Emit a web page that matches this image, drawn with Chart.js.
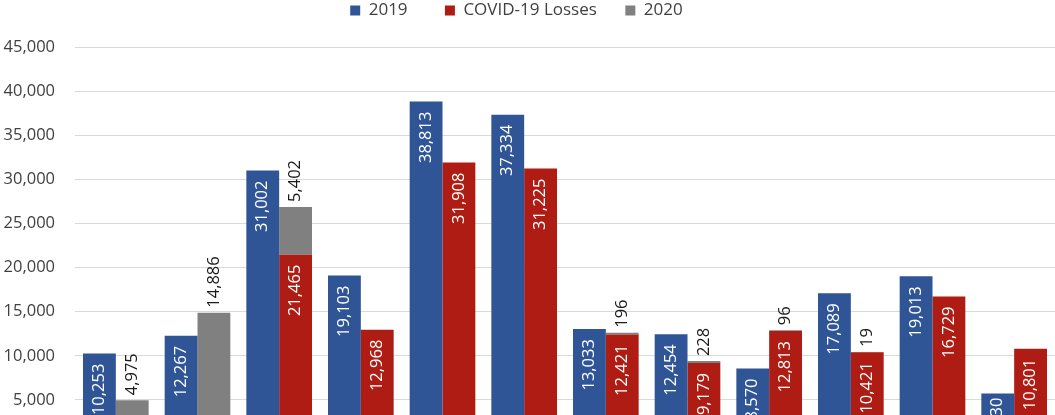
<!DOCTYPE html>
<html>
<head>
<meta charset="utf-8">
<script src="https://cdn.jsdelivr.net/npm/chart.js@4/dist/chart.umd.min.js"></script>
<style>
  html, body { margin: 0; padding: 0; background: #ffffff; overflow: hidden; }
  #wrap { position: relative; width: 1055px; height: 474px; }
</style>
</head>
<body>
<div id="wrap"><canvas id="chart"></canvas></div>
<script>
// Groups along the horizontal axis
const categories = ['1', '2', '3', '4', '5', '6', '7', '8', '9', '10', '11', '12'];

// Series values
const values2019 = [10253, 12267, 31002, 19103, 38813, 37334, 13033, 12454, 8570, 17089, 19013, 5730];
const covidLosses = [null, null, 21465, 12968, 31908, 31225, 12421, 9179, 12813, 10421, 16729, 10801];
const values2020 = [4975, 14886, 5402, null, null, null, 196, 228, 96, 19, null, null];

// Value axis
const yTicks = [5000, 10000, 15000, 20000, 25000, 30000, 35000, 40000, 45000];
const yMax = 45000;

const BLUE = '#2F5597';
const RED = '#AE1C13';
const GRAY = '#808080';
const FONT = "'Open Sans', 'Noto Sans', sans-serif";

// trailing spaces give each legend entry its column width
const legendTrail = [8, 6, 5];

const fmt = v => Number(v).toLocaleString('en-US');

// Legend block height above the plot
const legendBlock = {
  id: 'legendBlock',
  beforeInit(chart) {
    if (!chart.legend) return;
    const fit = chart.legend.fit;
    chart.legend.fit = function () {
      fit.call(this);
      this.height = 47;
    };
  }
};

// Rotated value labels: inside the top of blue/red bars, above the gray bars
const barLabels = {
  id: 'barLabels',
  afterDatasetsDraw(chart) {
    const ctx = chart.ctx;
    ctx.save();
    ctx.font = "16.5px " + FONT;
    ctx.textBaseline = 'middle';
    chart.data.datasets.forEach((ds, di) => {
      const meta = chart.getDatasetMeta(di);
      if (meta.hidden) return;
      meta.data.forEach((el, i) => {
        const v = ds.data[i];
        if (v === null || v === undefined) return;
        const p = el.getProps(['x', 'y', 'base'], true);
        const text = fmt(v);
        const w = ctx.measureText(text).width;
        ctx.save();
        if (ds.labelOutside) {
          ctx.fillStyle = '#1a1a1a';
          ctx.translate(p.x, p.y - 5);
          ctx.rotate(-Math.PI / 2);
          ctx.textAlign = 'left';
        } else {
          const h = p.base - p.y;
          const off = Math.min(10, (h - w) / 2);
          ctx.fillStyle = '#ffffff';
          ctx.translate(p.x, p.y + off);
          ctx.rotate(-Math.PI / 2);
          ctx.textAlign = 'right';
        }
        ctx.fillText(text, 0, 0);
        ctx.restore();
      });
    });
    ctx.restore();
  }
};

new Chart(document.getElementById('chart'), {
  type: 'bar',
  data: {
    labels: categories,
    datasets: [
      { label: '2019', data: values2019, backgroundColor: BLUE, stack: 'prior' },
      { label: 'COVID-19 Losses', data: covidLosses, backgroundColor: RED, stack: 'current' },
      { label: '2020', data: values2020, backgroundColor: GRAY, stack: 'current', labelOutside: true }
    ]
  },
  options: {
    responsive: true,
    maintainAspectRatio: false,
    animation: false,
    locale: 'en-US',
    layout: { padding: { left: 0, right: 0, top: 0, bottom: 0 } },
    datasets: { bar: { categoryPercentage: 0.804, barPercentage: 1.0, borderWidth: 0 } },
    plugins: {
      legend: {
        position: 'top',
        align: 'center',
        labels: {
          boxWidth: 10,
          boxHeight: 10,
          padding: 2,
          color: '#404040',
          font: { family: FONT, size: 17 },
          generateLabels(chart) {
            const items = Chart.defaults.plugins.legend.labels.generateLabels(chart);
            items.forEach((it, i) => { it.text = it.text + ' '.repeat(legendTrail[i] || 0); it.lineWidth = 0; });
            return items;
          }
        }
      },
      tooltip: { enabled: false }
    },
    scales: {
      x: { stacked: true, display: false },
      y: {
        stacked: true,
        min: 0,
        max: yMax,
        border: { display: false },
        grid: { color: '#d9d9d9', lineWidth: 1, drawTicks: false },
        afterBuildTicks(scale) { scale.ticks = [0].concat(yTicks).map(v => ({ value: v })); },
        afterFit(scale) { scale.width = 75; },
        ticks: {
          padding: 20,
          color: '#404040',
          font: { family: FONT, size: 16.5 },
          callback: v => fmt(v)
        }
      }
    }
  },
  plugins: [legendBlock, barLabels]
});
</script>
</body>
</html>
